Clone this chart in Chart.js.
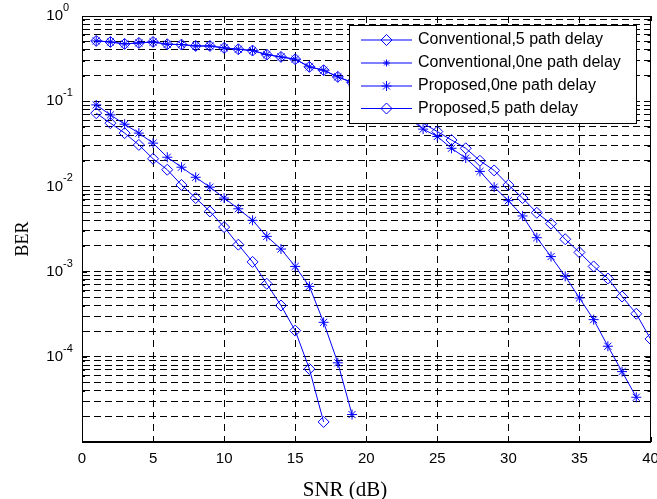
<!DOCTYPE html>
<html>
<head>
<meta charset="utf-8">
<script src="https://cdn.jsdelivr.net/npm/chart.js@4.4.0/dist/chart.umd.min.js"></script>
<style>
  html, body { margin: 0; padding: 0; background: #fff; }
  #wrap { width: 657px; height: 499px; }
</style>
</head>
<body>
<div id="wrap"><canvas id="berChart" width="657" height="499"></canvas></div>
<script>
// SNR points (dB)
const snr = [1, 2, 3, 4, 5, 6, 7, 8, 9, 10, 11, 12, 13, 14, 15, 16, 17, 18, 19, 20,
             21, 22, 23, 24, 25, 26, 27, 28, 29, 30, 31, 32, 33, 34, 35, 36, 37, 38, 39, 40];

// BER values (19..23 sit behind the legend)
const convFive = [0.51, 0.496, 0.47, 0.483, 0.496, 0.466, 0.462, 0.445, 0.445, 0.422,
                  0.407, 0.393, 0.352, 0.331, 0.311, 0.253, 0.231, 0.193, 0.167, 0.139,
                  0.113, 0.09, 0.07, 0.055, 0.044, 0.035, 0.028, 0.020, 0.0154, 0.0104,
                  0.0073, 0.0049, 0.00365, 0.0024, 0.00168, 0.00115, 0.00083, 0.00051, 0.00032, 0.000162];
const convOne = [0.51, 0.496, 0.47, 0.483, 0.496, 0.466, 0.462, 0.445, 0.445, 0.422,
                 0.407, 0.393, 0.352, 0.331, 0.311, 0.253, 0.231, 0.193, 0.165, 0.135,
                 0.107, 0.083, 0.063, 0.047, 0.0385, 0.028, 0.0215, 0.015, 0.0098, 0.0068,
                 0.0045, 0.0025, 0.0015, 0.00088, 0.00049, 0.000273, 0.000133, 0.000067, 0.0000335];
const propOne = [0.0905, 0.069, 0.0537, 0.0422, 0.0322, 0.022, 0.0168, 0.0128, 0.0098, 0.0073,
                 0.00546, 0.0040, 0.00259, 0.00184, 0.00115, 0.00067, 0.000254, 0.000085, 0.000021];
const propFive = [0.0723, 0.0552, 0.0422, 0.0307, 0.0211, 0.0157, 0.0104, 0.0073, 0.00508, 0.00333,
                  0.00207, 0.0013, 0.00072, 0.00040, 0.000203, 0.000072, 0.0000172];

const seriesLabels = ['Conventional,5 path delay', 'Conventional,0ne path delay',
                      'Proposed,0ne path delay', 'Proposed,5 path delay'];
const xTicks = [0, 5, 10, 15, 20, 25, 30, 35, 40];
const decades = [-5, -4, -3, -2, -1, 0];

const blue = '#0000ff';
const sans = '"Liberation Sans", Arial, sans-serif';
const serif = '"Liberation Serif", "Times New Roman", serif';

function toPoints(vals) {
  return vals.map((v, i) => ({ x: snr[i], y: v }));
}

function series(label, vals, style, r) {
  return {
    label: label,
    data: toPoints(vals),
    borderColor: blue,
    borderWidth: 1,
    pointStyle: style,
    pointRadius: r,
    pointBorderColor: blue,
    pointBackgroundColor: 'rgba(0,0,0,0)',
    pointBorderWidth: 1,
    tension: 0,
    fill: false
  };
}

function drawMarker(ctx, style, x, y, r) {
  ctx.beginPath();
  if (style === 'rectRot') {
    ctx.moveTo(x - r, y); ctx.lineTo(x, y - r); ctx.lineTo(x + r, y); ctx.lineTo(x, y + r);
    ctx.closePath();
  } else {
    for (let k = 0; k < 4; k++) {
      const a = k * Math.PI / 4;
      ctx.moveTo(x - r * Math.cos(a), y - r * Math.sin(a));
      ctx.lineTo(x + r * Math.cos(a), y + r * Math.sin(a));
    }
  }
  ctx.stroke();
}

// box, inward ticks, 10^n labels, axis titles and the legend
const decor = {
  id: 'decor',
  afterDraw(chart) {
    const { ctx, chartArea: a, scales: { x, y } } = chart;
    ctx.save();
    ctx.strokeStyle = '#000';
    ctx.lineWidth = 1;
    ctx.setLineDash([]);

    // inward ticks
    ctx.beginPath();
    xTicks.forEach(v => {
      const px = Math.round(x.getPixelForValue(v)) + 0.5;
      ctx.moveTo(px, a.bottom); ctx.lineTo(px, a.bottom - 5);
      ctx.moveTo(px, a.top); ctx.lineTo(px, a.top + 5);
    });
    decades.forEach(k => {
      for (let m = 1; m < 10; m++) {
        const v = m * Math.pow(10, k);
        if (v > 1) break;
        const py = Math.round(y.getPixelForValue(v)) + 0.5;
        const len = m === 1 ? 5 : 3;
        ctx.moveTo(a.left, py); ctx.lineTo(a.left + len, py);
        ctx.moveTo(a.right, py); ctx.lineTo(a.right - len, py);
      }
    });
    ctx.stroke();

    ctx.strokeRect(Math.round(a.left) + 0.5, Math.round(a.top) + 0.5,
                   Math.round(a.right - a.left) - 1, Math.round(a.bottom - a.top) - 1);

    // y labels as 10 with a raised exponent
    ctx.fillStyle = '#000';
    ctx.textBaseline = 'middle';
    decades.forEach(k => {
      if (k === -5) return;
      const py = y.getPixelForValue(Math.pow(10, k));
      ctx.font = '15px ' + sans;
      ctx.textAlign = 'right';
      ctx.fillText('10', 63, py);
      ctx.font = '11px ' + sans;
      ctx.textAlign = 'left';
      ctx.fillText(String(k), 63, py - 8);
    });

    // axis titles
    ctx.font = '21px ' + serif;
    ctx.textAlign = 'center';
    ctx.textBaseline = 'alphabetic';
    ctx.fillText('SNR (dB)', 345, 496);
    ctx.save();
    ctx.translate(28, 239);
    ctx.rotate(-Math.PI / 2);
    ctx.font = '18px ' + serif;
    ctx.fillText('BER', 0, 0);
    ctx.restore();

    // legend
    const bx = 349.5, by = 25.5, bw = 287, bh = 98;
    ctx.fillStyle = '#fff';
    ctx.fillRect(bx, by, bw, bh);
    ctx.strokeRect(bx, by, bw, bh);
    const rows = [40, 63, 86, 108.5];
    const marks = [['rectRot', 5.5], ['star', 3.5], ['star', 5], ['rectRot', 5.5]];
    chart.data.datasets.forEach((ds, i) => {
      const ry = rows[i];
      ctx.strokeStyle = blue;
      ctx.beginPath();
      ctx.moveTo(361, ry); ctx.lineTo(412, ry);
      ctx.stroke();
      drawMarker(ctx, marks[i][0], 386.5, ry, marks[i][1]);
      ctx.fillStyle = '#000';
      ctx.font = '16px ' + sans;
      ctx.textAlign = 'left';
      ctx.textBaseline = 'middle';
      ctx.fillText(ds.label, 418, ry);
    });
    ctx.restore();
  }
};

new Chart(document.getElementById('berChart'), {
  type: 'line',
  data: {
    datasets: [
      series(seriesLabels[0], convFive, 'rectRot', 5.5),
      series(seriesLabels[1], convOne, 'star', 5),
      series(seriesLabels[2], propOne, 'star', 5),
      series(seriesLabels[3], propFive, 'rectRot', 5.5)
    ]
  },
  options: {
    responsive: false,
    animation: false,
    devicePixelRatio: 1,
    layout: { padding: { top: 16, right: 6, left: 0, bottom: 0 } },
    plugins: { legend: { display: false }, tooltip: { enabled: false } },
    scales: {
      x: {
        type: 'linear',
        min: 0,
        max: 40,
        afterBuildTicks: s => { s.ticks = xTicks.map(v => ({ value: v })); },
        afterFit: s => { s.height = 57; s.paddingLeft = 0; s.paddingRight = 0; },
        grid: { color: '#000', lineWidth: 1, drawTicks: false },
        border: { color: '#000', width: 1, dash: [7, 5] },
        ticks: { color: '#000', padding: 8, maxRotation: 0, font: { family: sans, size: 15 } }
      },
      y: {
        type: 'logarithmic',
        min: 1e-5,
        max: 1,
        afterBuildTicks: s => {
          const t = [];
          decades.forEach(k => {
            for (let m = 1; m < 10; m++) {
              const v = m * Math.pow(10, k);
              if (v <= 1) t.push({ value: v });
            }
          });
          s.ticks = t;
        },
        afterFit: s => { s.width = 82; },
        grid: { color: '#000', lineWidth: 1, drawTicks: false },
        border: { color: '#000', width: 1, dash: [7, 4] },
        ticks: { display: false }
      }
    }
  },
  plugins: [decor]
});
</script>
</body>
</html>
